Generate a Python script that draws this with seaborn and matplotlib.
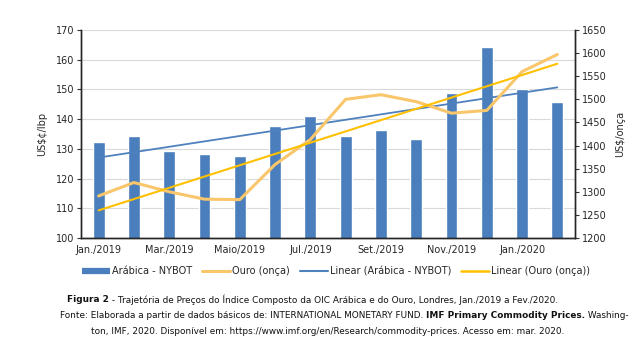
import numpy as np
import matplotlib
matplotlib.use("Agg")
import matplotlib.pyplot as plt
import seaborn as sns
from matplotlib.lines import Line2D

sns.set_style("white")
plt.rcParams['font.family'] = ['DejaVu Sans']

# dados
meses = ["Jan./2019", "Fev./2019", "Mar./2019", "Abr./2019", "Maio/2019", "Jun./2019",
         "Jul./2019", "Ago./2019", "Set./2019", "Out./2019", "Nov./2019", "Dez./2019",
         "Jan./2020", "Fev./2020"]
arabica = [132.4, 134.3, 129.3, 128.3, 127.7, 137.8, 141.2, 134.3, 136.3, 133.3,
           148.9, 164.4, 150.3, 145.8]
ouro = [1291, 1320, 1300, 1284, 1283, 1359, 1413, 1500, 1510, 1495, 1470, 1476,
        1560, 1597]
ticks_esq = list(range(100, 171, 10))
ticks_dir = list(range(1200, 1651, 50))

azul = "#4A7EBD"
azul_lin = "#4F81BD"
laranja = "#F9C66B"
amarelo = "#FFC000"

fig = plt.figure(figsize=(6.34, 3.52), dpi=100)
ax = fig.add_axes([81 / 634, 1 - 238 / 352, (575 - 81) / 634, 208 / 352])
idx = np.arange(len(meses))

sns.barplot(x=meses, y=arabica, color=azul, width=0.34, saturation=1, ax=ax, zorder=2)
sns.regplot(x=idx, y=arabica, ax=ax, scatter=False, ci=None, truncate=True,
            color=azul_lin, line_kws={"lw": 1.3, "zorder": 3})

ax2 = ax.twinx()
sns.lineplot(x=idx, y=ouro, ax=ax2, color=laranja, lw=2.2)
sns.regplot(x=idx, y=ouro, ax=ax2, scatter=False, ci=None, truncate=True,
            color=amarelo, line_kws={"lw": 1.5})

ax.set_xlim(-0.5, len(meses) - 0.5)
ax.set_ylim(100, 170)
ax2.set_ylim(1200, 1650)
ax.set_yticks(ticks_esq)
ax2.set_yticks(ticks_dir)
ax.yaxis.grid(True, color="#D9D9D9", lw=0.8, zorder=0)
ax.set_axisbelow(True)

ax.set_xticks(idx[::2])
ax.set_xticklabels(meses[::2], fontsize=7)
ax.set_xticks(np.arange(-0.5, len(meses), 1), minor=True)
ax.tick_params(axis="x", which="major", length=0, pad=5)
ax.tick_params(axis="x", which="minor", length=4, width=0.8, color="#333333", direction="out")
ax.tick_params(axis="y", length=3, width=0.8, labelsize=7, pad=2, color="#333333", left=True)
ax2.tick_params(axis="y", length=3, width=0.8, labelsize=7, pad=2, color="#333333", right=True)
ax.set_xlabel("")
ax.set_ylabel("US$¢/lbp", fontsize=7, labelpad=6)
ax2.set_ylabel("US$/onça", fontsize=7, labelpad=6)

for a in (ax, ax2):
    for s in ("left", "bottom", "right"):
        a.spines[s].set_visible(True)
        a.spines[s].set_color("#262626")
        a.spines[s].set_linewidth(1.0)
    a.spines["top"].set_visible(False)

handles = [Line2D([], [], color=azul, lw=4.5, solid_capstyle="butt"),
           Line2D([], [], color=laranja, lw=2.2),
           Line2D([], [], color=azul_lin, lw=1.5),
           Line2D([], [], color=amarelo, lw=1.8)]
labels = ["Arábica - NYBOT", "Ouro (onça)", "Linear (Arábica - NYBOT)", "Linear (Ouro (onça))"]
fig.legend(handles, labels, loc="center", bbox_to_anchor=(336 / 634, 1 - 271 / 352),
           ncol=4, frameon=False, fontsize=7, handlelength=2.9, handletextpad=0.2,
           columnspacing=1.0)

# legenda da figura (texto com partes em negrito)
linhas = [
    (67, 300, [("Figura 2", "bold"),
               (" - Trajetória de Preços do Índice Composto da OIC Arábica e do Ouro, Londres, Jan./2019 a Fev./2020.", "normal")]),
    (60, 316, [("Fonte: Elaborada a partir de dados básicos de: INTERNATIONAL MONETARY FUND. ", "normal"),
               ("IMF Primary Commodity Prices.", "bold"),
               (" Washing-", "normal")]),
    (91, 332, [("ton, IMF, 2020. Disponível em: https://www.imf.org/en/Research/commodity-prices. Acesso em: mar. 2020.", "normal")]),
]

renderer = fig.canvas.get_renderer()


def largura(partes, tam):
    total = 0
    for txt, peso in partes:
        t = fig.text(0, 0, txt, fontsize=tam, fontweight=peso)
        total += t.get_window_extent(renderer).width
        t.remove()
    return total


tam = 7 * 568 / largura(linhas[1][2], 7)
for x0, y0, partes in linhas:
    x = x0
    for txt, peso in partes:
        t = fig.text(x / 634, 1 - y0 / 352, txt, fontsize=tam, fontweight=peso,
                     va="center", ha="left", color="#111111")
        x += t.get_window_extent(renderer).width

fig.savefig("out.png", dpi=100)
